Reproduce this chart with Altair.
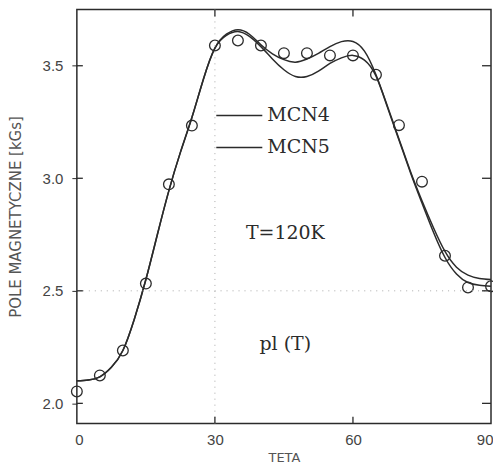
import altair as alt
import pandas as pd

# ---- data ----
teta_curve = [0, 2.5, 5, 7.5, 10, 12.5, 15, 17.5, 20, 22.5, 25, 27.5, 30, 32.5,
              35, 37.5, 40, 42.5, 45, 47.5, 50, 52.5, 55, 57.5, 60, 62.5, 65,
              67.5, 70, 72.5, 75, 77.5, 80, 82.5, 85, 87.5, 90]
mcn4 = [2.100, 2.104, 2.118, 2.160, 2.235, 2.375, 2.550, 2.750, 2.945, 3.115,
        3.270, 3.440, 3.578, 3.640, 3.660, 3.640, 3.593, 3.553, 3.527, 3.516,
        3.530, 3.555, 3.585, 3.607, 3.608, 3.565, 3.460, 3.320, 3.175, 3.030,
        2.900, 2.780, 2.675, 2.605, 2.570, 2.555, 2.550]
mcn5 = [2.100, 2.104, 2.118, 2.160, 2.235, 2.375, 2.550, 2.750, 2.945, 3.115,
        3.270, 3.440, 3.578, 3.635, 3.652, 3.630, 3.585, 3.530, 3.482, 3.452,
        3.452, 3.476, 3.510, 3.535, 3.546, 3.525, 3.455, 3.315, 3.170, 3.025,
        2.890, 2.760, 2.648, 2.575, 2.537, 2.525, 2.520]

teta_obs = [0, 5, 10, 15, 20, 25, 30, 35, 40, 45, 50, 55, 60, 65, 70, 75, 80, 85, 90]
pole_obs = [2.053, 2.124, 2.235, 2.532, 2.973, 3.234, 3.590, 3.612, 3.590, 3.556,
            3.556, 3.546, 3.546, 3.460, 3.236, 2.985, 2.656, 2.515, 2.520]

x_ticks = [0, 30, 60, 90]
x_inner_ticks = [30, 60]
y_ticks = [2.0, 2.5, 3.0, 3.5]
x_grid = [30]
y_grid = [2.5]

legend_names = ["MCN4", "MCN5"]
legend_y = [3.279, 3.137]
legend_x0 = [30.3, 30.3]
legend_x1 = [40.3, 40.3]
legend_tx = [41.4, 41.4]

annot_text = ["T=120K", "pl (T)"]
annot_x = [45.3, 45.3]
annot_y = [2.755, 2.262]

W, H = 415, 415
INK = "#2b2b2b"

curves = pd.DataFrame({
    "teta": teta_curve * 2,
    "pole": mcn4 + mcn5,
    "seria": ["MCN4"] * len(teta_curve) + ["MCN5"] * len(teta_curve),
})
obs = pd.DataFrame({"teta": teta_obs, "pole": pole_obs})
leg = pd.DataFrame({"name": legend_names, "pole": legend_y, "teta": legend_x0,
                    "x1": legend_x1, "tx": legend_tx})
ann = pd.DataFrame({"text": annot_text, "teta": annot_x, "pole": annot_y})
xt = pd.DataFrame({"teta": x_inner_ticks})
yt = pd.DataFrame({"pole": y_ticks})
xg = pd.DataFrame({"teta": x_grid})
yg = pd.DataFrame({"pole": y_grid})

xscale = alt.Scale(domain=[0, 90], nice=False, zero=False)
yscale = alt.Scale(domain=[1.91, 3.75], nice=False, zero=False)

lab_font = "Liberation Sans"
title_font = "DejaVu Sans"

x_axis = alt.Axis(values=x_ticks, title="TETA", ticks=False, domain=False,
                  grid=False, labelFlush=True, labelFlushOffset=2,
                  labelFont=lab_font, labelFontSize=15,
                  labelColor="#444", labelPadding=9, titleFont=title_font,
                  titleFontSize=13, titleFontWeight="normal", titleColor="#555",
                  titleX=W / 2, titleY=34, titleBaseline="middle", titleAlign="center")
y_axis = alt.Axis(values=y_ticks, format=".1f", title="POLE MAGNETYCZNE [kGs]",
                  tickSize=5, tickColor=INK, domain=False, grid=False, labelFlush=False,
                  labelFont=lab_font, labelFontSize=15, labelColor="#444",
                  labelPadding=9, titleFont=title_font, titleFontSize=15,
                  titleFontWeight="normal", titleColor="#555", titleAngle=270,
                  titleX=-61, titleY=H / 2, titleBaseline="middle", titleAlign="center")

X = alt.X("teta:Q", scale=xscale, axis=x_axis)
Y = alt.Y("pole:Q", scale=yscale, axis=y_axis)

lines = alt.Chart(curves).mark_line(color=INK, strokeWidth=1.5, interpolate="natural").encode(
    x=X, y=Y, detail="seria:N")

points = alt.Chart(obs).mark_point(shape="circle", size=115, filled=False,
                                   color=INK, strokeWidth=1.3, opacity=1).encode(x=X, y=Y)

grid_style = dict(color="#aaaaaa", strokeWidth=1, strokeDash=[1, 5])
gx = alt.Chart(xg).mark_rule(**grid_style).encode(x=X)
gy = alt.Chart(yg).mark_rule(**grid_style).encode(y=Y)

tick_style = dict(color=INK, strokeWidth=1.3)
t_bottom = alt.Chart(xt).mark_rule(**tick_style).encode(
    x=X, y=alt.value(H), y2=alt.value(H - 7))
t_top = alt.Chart(xt).mark_rule(**tick_style).encode(
    x=X, y=alt.value(0), y2=alt.value(7))
t_right = alt.Chart(yt).mark_rule(**tick_style).encode(
    y=Y, x=alt.value(W), x2=alt.value(W - 9))
t_left = alt.Chart(yt).mark_rule(**tick_style).encode(
    y=Y, x=alt.value(0), x2=alt.value(6))

leg_lines = alt.Chart(leg).mark_rule(color=INK, strokeWidth=1.5).encode(
    x=X, x2="x1:Q", y=Y)
leg_text = alt.Chart(leg).mark_text(font="DejaVu Serif", fontSize=19, color=INK,
                                    align="left", baseline="middle").encode(
    x=alt.X("tx:Q", scale=xscale, axis=x_axis), y=Y, text="name:N")

ann_text = alt.Chart(ann).mark_text(font="DejaVu Serif", fontSize=19, color=INK,
                                    align="center", baseline="middle").encode(
    x=X, y=Y, text="text:N")

chart = alt.layer(lines, points, gx, gy, t_bottom, t_top, t_right, t_left,
                  leg_lines, leg_text, ann_text).properties(
    width=W, height=H,
    autosize=alt.AutoSizeParams(type="none"),
    padding={"left": 69, "top": 1, "right": 2, "bottom": 40},
    background="white",
).configure_view(stroke=INK, strokeWidth=1.5)

chart.save("out.html", embed_options={"renderer": "svg", "actions": False})
